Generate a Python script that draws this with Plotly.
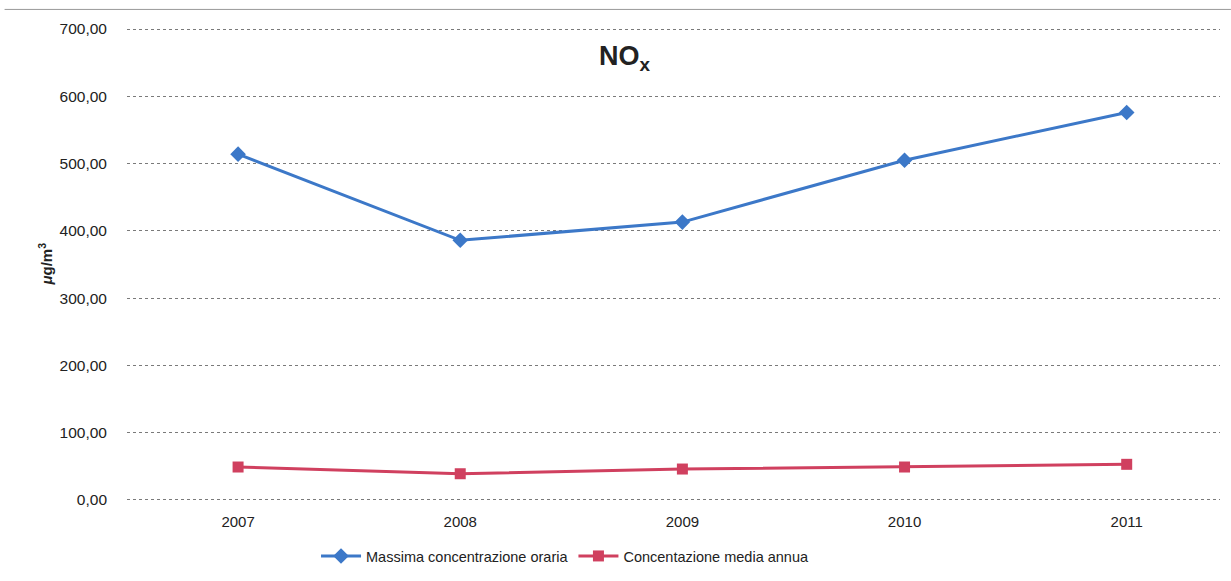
import plotly.graph_objects as go

years = ["2007", "2008", "2009", "2010", "2011"]
massima_oraria = [514, 386, 413, 505, 576]
media_annua = [49, 39, 46, 49, 53]
y_ticks = [0, 100, 200, 300, 400, 500, 600, 700]
y_tick_labels = ["0,00", "100,00", "200,00", "300,00", "400,00", "500,00", "600,00", "700,00"]

xpos = list(range(len(years)))

fig = go.Figure()
fig.add_trace(go.Scatter(
    x=xpos, y=massima_oraria, mode="lines+markers",
    name="Massima concentrazione oraria",
    line=dict(color="#3c78c8", width=3),
    marker=dict(symbol="diamond", size=12, color="#3c78c8"),
))
fig.add_trace(go.Scatter(
    x=xpos, y=media_annua, mode="lines+markers",
    name="Concentazione media annua",
    line=dict(color="#d0405f", width=3),
    marker=dict(symbol="square", size=11, color="#d0405f"),
))

fig.update_layout(
    width=1231, height=581,
    margin=dict(l=127, r=11, t=27, b=79, autoexpand=False),
    paper_bgcolor="white", plot_bgcolor="white",
    font=dict(family="Liberation Sans, Arial, sans-serif", size=15, color="#222"),
    showlegend=True,
    legend=dict(orientation="h", xref="container", x=0.459, xanchor="center",
                yref="container", y=0.043, yanchor="middle",
                font=dict(size=14.5, color="#222"), itemwidth=40),
    annotations=[
        dict(text="<b>NO<sub>x</sub></b>", x=0.4556, xref="paper", xanchor="center",
             y=657, yref="y", yanchor="middle", showarrow=False,
             font=dict(size=27, color="#222")),
        dict(text="<b><i>μ</i>g/m<sup>3</sup></b>", x=-0.075, xref="paper", xanchor="center",
             y=0.5, yref="paper", yanchor="middle",
             textangle=-90, showarrow=False, font=dict(size=15, color="#222")),
    ],
    shapes=[dict(type="line", xref="paper", yref="paper", x0=-0.112, x1=1.01, y0=1.037, y1=1.037,
                 line=dict(color="#999", width=1))],
)
fig.update_xaxes(
    tickvals=xpos, ticktext=years, range=[-0.5, 4.42], automargin=False,
    showgrid=False, zeroline=False, showline=False, ticks="",
    tickfont=dict(size=15, color="#222"), ticklabelstandoff=9,
)
fig.update_yaxes(
    range=[-3, 703], tickvals=y_ticks, ticktext=y_tick_labels, automargin=False,
    showgrid=True, gridcolor="#7a7a7a", gridwidth=1, griddash="dot",
    zeroline=False, showline=False, ticks="",
    tickfont=dict(size=15.5, color="#222"), ticklabelstandoff=19,
)

fig.write_html("out.html", config={"displayModeBar": False},
               post_script="document.body.style.margin='0';")
